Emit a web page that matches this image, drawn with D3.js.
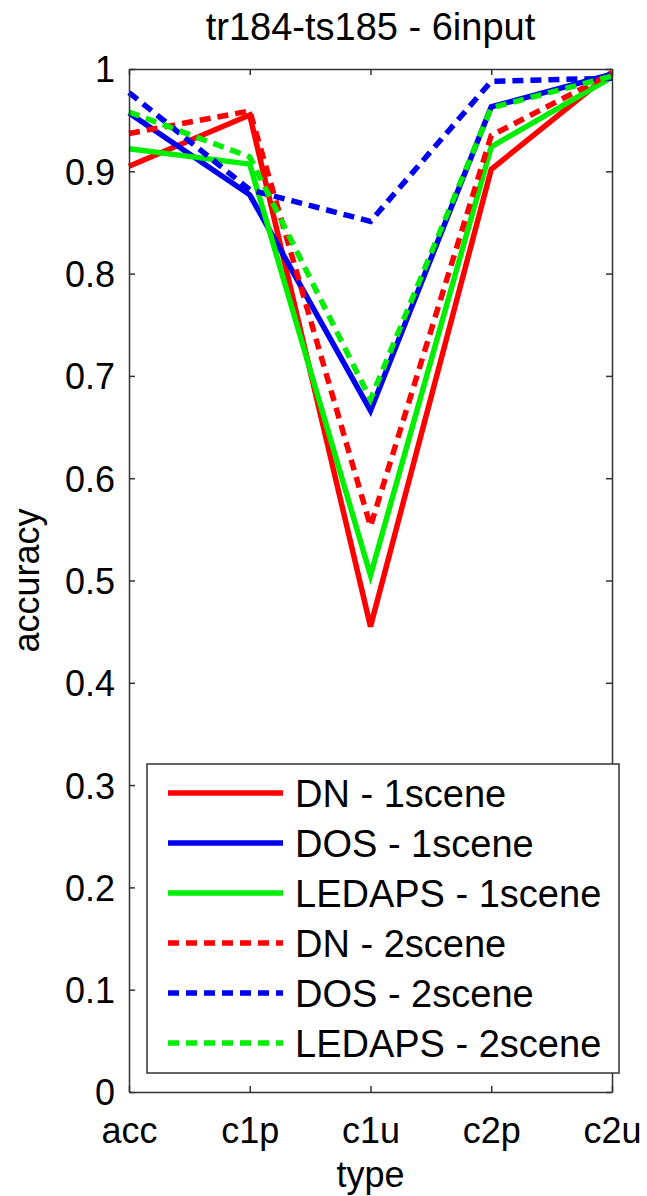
<!DOCTYPE html>
<html>
<head>
  <meta charset="utf-8">
  <title>tr184-ts185 - 6input</title>
  <script src="https://cdn.jsdelivr.net/npm/d3@7"></script>
  <style>
    body { margin: 0; background: #fff; }
    text { font-family: "Liberation Sans", Arial, sans-serif; fill: #000; }
  </style>
</head>
<body>
<script>
  var categories = ["acc", "c1p", "c1u", "c2p", "c2u"];
  var yTicks = [0, 0.1, 0.2, 0.3, 0.4, 0.5, 0.6, 0.7, 0.8, 0.9, 1];
  var yTickLabels = ["0", "0.1", "0.2", "0.3", "0.4", "0.5", "0.6", "0.7", "0.8", "0.9", "1"];

  var dn1     = [0.905, 0.955, 0.455, 0.902, 0.997];
  var dos1    = [0.957, 0.877, 0.666, 0.963, 0.995];
  var ledaps1 = [0.922, 0.907, 0.505, 0.924, 0.992];
  var dn2     = [0.937, 0.959, 0.553, 0.935, 0.996];
  var dos2    = [0.977, 0.882, 0.851, 0.988, 0.991];
  var ledaps2 = [0.958, 0.914, 0.677, 0.962, 0.993];

  var seriesNames = ["DN - 1scene", "DOS - 1scene", "LEDAPS - 1scene", "DN - 2scene", "DOS - 2scene", "LEDAPS - 2scene"];
  var seriesValues = [dn1, dos1, ledaps1, dn2, dos2, ledaps2];
  var colors = ["#ff0000", "#0000ee", "#00ee00", "#ff0000", "#0000ee", "#00ee00"];
  var dashed = [false, false, false, true, true, true];

  var width = 647;
  var height = 1196;
  var plotLeft = 129, plotRight = 612, plotTop = 69, plotBottom = 1092;

  var svg = d3.select("body")
    .append("svg")
    .attr("width", width)
    .attr("height", height);

  var xScale = d3.scalePoint()
    .domain(categories)
    .range([plotLeft, plotRight]);

  var yScale = d3.scaleLinear()
    .domain([0, 1])
    .range([plotBottom, plotTop]);

  // lines
  var line = d3.line()
    .x(function(d, i) { return xScale(categories[i]); })
    .y(function(d) { return yScale(d); });

  seriesValues.forEach(function(vals, k) {
    svg.append("path")
      .datum(vals)
      .attr("d", line)
      .attr("fill", "none")
      .attr("stroke", colors[k])
      .attr("stroke-width", 5.5)
      .attr("stroke-linejoin", "miter")
      .attr("stroke-dasharray", dashed[k] ? "11,7" : null);
  });

  // axes
  var xAxis = svg.append("g")
    .attr("transform", "translate(0," + plotBottom + ")")
    .call(d3.axisBottom(xScale).tickSize(-6).tickSizeOuter(0));
  xAxis.selectAll("text")
    .attr("y", 51).attr("dy", 0)
    .style("font-size", "36px");

  svg.append("g")
    .attr("transform", "translate(0," + plotTop + ")")
    .call(d3.axisTop(xScale).tickSize(-6).tickSizeOuter(0).tickFormat(""));

  var yAxis = svg.append("g")
    .attr("transform", "translate(" + plotLeft + ",0)")
    .call(d3.axisLeft(yScale).tickValues(yTicks).tickSize(-6).tickSizeOuter(0)
      .tickFormat(function(d, i) { return yTickLabels[i]; }));
  yAxis.selectAll("text")
    .attr("x", -14).attr("dy", "0.36em")
    .style("font-size", "36px");

  svg.append("g")
    .attr("transform", "translate(" + plotRight + ",0)")
    .call(d3.axisRight(yScale).tickValues(yTicks).tickSize(-6).tickSizeOuter(0).tickFormat(""));

  svg.selectAll(".domain, .tick line")
    .attr("stroke", "#333")
    .attr("stroke-width", 1.5);
  svg.selectAll(".tick text").attr("fill", "#000").attr("font-family", null);

  // title and axis labels
  svg.append("text")
    .attr("x", (plotLeft + plotRight) / 2).attr("y", 40)
    .attr("text-anchor", "middle")
    .style("font-size", "38px")
    .text("tr184-ts185 - 6input");

  svg.append("text")
    .attr("x", (plotLeft + plotRight) / 2).attr("y", 1187)
    .attr("text-anchor", "middle")
    .style("font-size", "36px")
    .text("type");

  svg.append("text")
    .attr("transform", "translate(39," + ((plotTop + plotBottom) / 2) + ") rotate(-90)")
    .attr("text-anchor", "middle")
    .style("font-size", "36px")
    .text("accuracy");

  // legend
  var legend = svg.append("g");
  legend.append("rect")
    .attr("x", 147).attr("y", 764)
    .attr("width", 472).attr("height", 309)
    .attr("fill", "#fff")
    .attr("stroke", "#333")
    .attr("stroke-width", 1.5);

  seriesNames.forEach(function(name, k) {
    var yy = 793 + k * 50;
    legend.append("line")
      .attr("x1", 168).attr("x2", 283)
      .attr("y1", yy).attr("y2", yy)
      .attr("stroke", colors[k])
      .attr("stroke-width", 5.5)
      .attr("stroke-dasharray", dashed[k] ? "11,7" : null);
    legend.append("text")
      .attr("x", 295).attr("y", yy)
      .attr("dy", "0.36em")
      .style("font-size", "38px")
      .text(name);
  });
</script>
</body>
</html>
